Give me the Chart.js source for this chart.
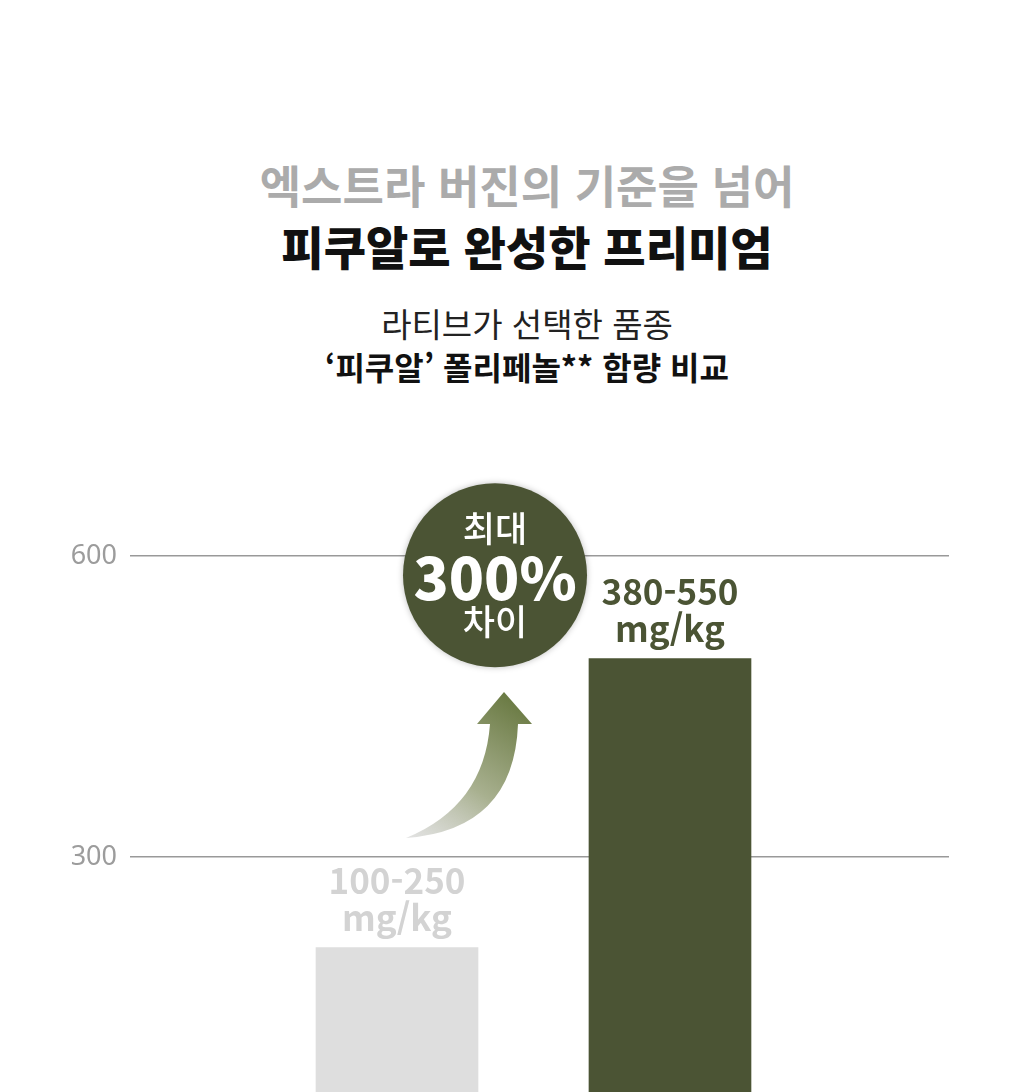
<!DOCTYPE html>
<html lang="ko">
<head>
<meta charset="utf-8">
<script src="https://cdn.jsdelivr.net/npm/chart.js@4.4.1/dist/chart.umd.min.js"></script>
<style>
    html, body { margin: 0; padding: 0; background: #fff; }
    body { width: 1024px; height: 1092px; position: relative; overflow: hidden; font-family: "Noto Sans CJK KR", "Noto Sans", sans-serif; }
    .line { position: absolute; left: 15px; width: 1024px; text-align: center; white-space: nowrap; }
    #t1 { top: 160px; font-size: 45px; line-height: 50px; font-weight: 700; color: #ababab; }
    #t2 { top: 220px; font-size: 46px; line-height: 50px; font-weight: 900; color: #111; }
    #s1 { top: 304px; font-size: 33px; line-height: 38px; font-weight: 400; color: #222; }
    #s2 { top: 347px; font-size: 32px; line-height: 38px; font-weight: 700; color: #111; }
    #chart { position: absolute; left: 0; top: 0; }
</style>
</head>
<body>
<div class="line" id="t1">엑스트라 버진의 기준을 넘어</div>
<div class="line" id="t2">피쿠알로 완성한 프리미엄</div>
<div class="line" id="s1">라티브가 선택한 품종</div>
<div class="line" id="s2">‘피쿠알’ 폴리페놀** 함량 비교</div>
<canvas id="chart" width="1024" height="1092"></canvas>
<script>
// 데이터
const categories = ['일반 품종', '피쿠알']
const values = [210, 498]
const rangeLabels = ['100-250', '380-550']
const unitLabel = 'mg/kg'
const tickValues = [300, 600]
const barColors = ['#dedede', '#4b5434']
const labelColors = ['#d3d3d3', '#4b5434']

const olive = '#4b5434'

// 막대 위 수치 라벨 + 화살표 + 원형 배지
const decoPlugin = {
    id: 'deco',
    afterDatasetsDraw(chart) {
        const ctx = chart.ctx
        const meta = chart.getDatasetMeta(0)
        const yScale = chart.scales.y

        // 막대 라벨
        ctx.save()
        ctx.textAlign = 'center'
        ctx.textBaseline = 'middle'
        ctx.font = '700 35px "Noto Sans CJK KR", "Noto Sans", sans-serif'
        meta.data.forEach((bar, i) => {
            ctx.fillStyle = labelColors[i]
            ctx.fillText(rangeLabels[i], bar.x, bar.y - 67)
            ctx.fillText(unitLabel, bar.x, bar.y - 30)
        })
        ctx.restore()

        // 곡선 화살표 (회색 -> 올리브 그라데이션)
        const tip = { x: 504, y: 692 }
        const tail = { x: 406, y: 838 }
        ctx.save()
        const grad = ctx.createLinearGradient(tip.x, tip.y, tail.x, tail.y)
        grad.addColorStop(0, '#6a7a43')
        grad.addColorStop(0.55, '#a8b08f')
        grad.addColorStop(1, 'rgba(215,215,215,0.7)')
        ctx.fillStyle = grad
        ctx.beginPath()
        ctx.moveTo(tip.x, tip.y)
        ctx.lineTo(532, 724)
        ctx.lineTo(518, 724)
        ctx.quadraticCurveTo(514, 830, tail.x, tail.y)
        ctx.quadraticCurveTo(484, 806, 490, 724)
        ctx.lineTo(477, 724)
        ctx.closePath()
        ctx.fill()
        ctx.restore()

        // 원형 배지
        const cx = 495
        const cy = yScale.getPixelForValue(tickValues[1]) + 19
        ctx.save()
        ctx.shadowColor = 'rgba(0,0,0,0.25)'
        ctx.shadowBlur = 6
        ctx.beginPath()
        ctx.arc(cx, cy, 92, 0, Math.PI * 2)
        ctx.fillStyle = olive
        ctx.fill()
        ctx.restore()

        ctx.save()
        ctx.fillStyle = '#fff'
        ctx.textAlign = 'center'
        ctx.textBaseline = 'middle'
        ctx.font = '500 35px "Noto Sans CJK KR", sans-serif'
        ctx.fillText('최대', cx, cy - 46)
        ctx.fillText('차이', cx, cy + 47)
        ctx.font = '900 58px "Noto Sans CJK KR", "Noto Sans", sans-serif'
        ctx.fillText('300%', cx, cy + 3)
        ctx.restore()
    }
}

const chartData = {
    datasets: [{
        label: '폴리페놀 함량',
        data: categories.map((c, i) => ({ x: i + 1, y: values[i] })),
        backgroundColor: barColors,
        borderWidth: 0,
        barThickness: 162
    }]
}

const config = {
    type: 'bar',
    data: chartData,
    options: {
        responsive: false,
        animation: false,
        layout: { autoPadding: false, padding: { top: 506, right: 75, bottom: 0, left: 0 } },
        plugins: {
            legend: { display: false },
            tooltip: { enabled: false }
        },
        scales: {
            x: {
                type: 'linear',
                display: false,
                offset: false,
                min: 0.022,
                max: 3.022,
                afterFit: scale => {
                    scale.height = 0
                    scale.paddingLeft = 0
                    scale.paddingRight = 0
                }
            },
            y: {
                min: 66,
                max: 650,
                afterBuildTicks: scale => { scale.ticks = tickValues.map(v => ({ value: v })) },
                afterFit: scale => {
                    scale.width = 130
                    scale.paddingTop = 0
                    scale.paddingBottom = 0
                },
                border: { display: false },
                grid: {
                    color: '#999',
                    lineWidth: 1.5,
                    drawTicks: false
                },
                ticks: {
                    padding: 13,
                    color: '#9c9c9c',
                    font: { family: '"Noto Sans", sans-serif', size: 27 }
                }
            }
        }
    },
    plugins: [decoPlugin]
}

const myChart = new Chart(document.getElementById('chart'), config)
</script>
</body>
</html>
